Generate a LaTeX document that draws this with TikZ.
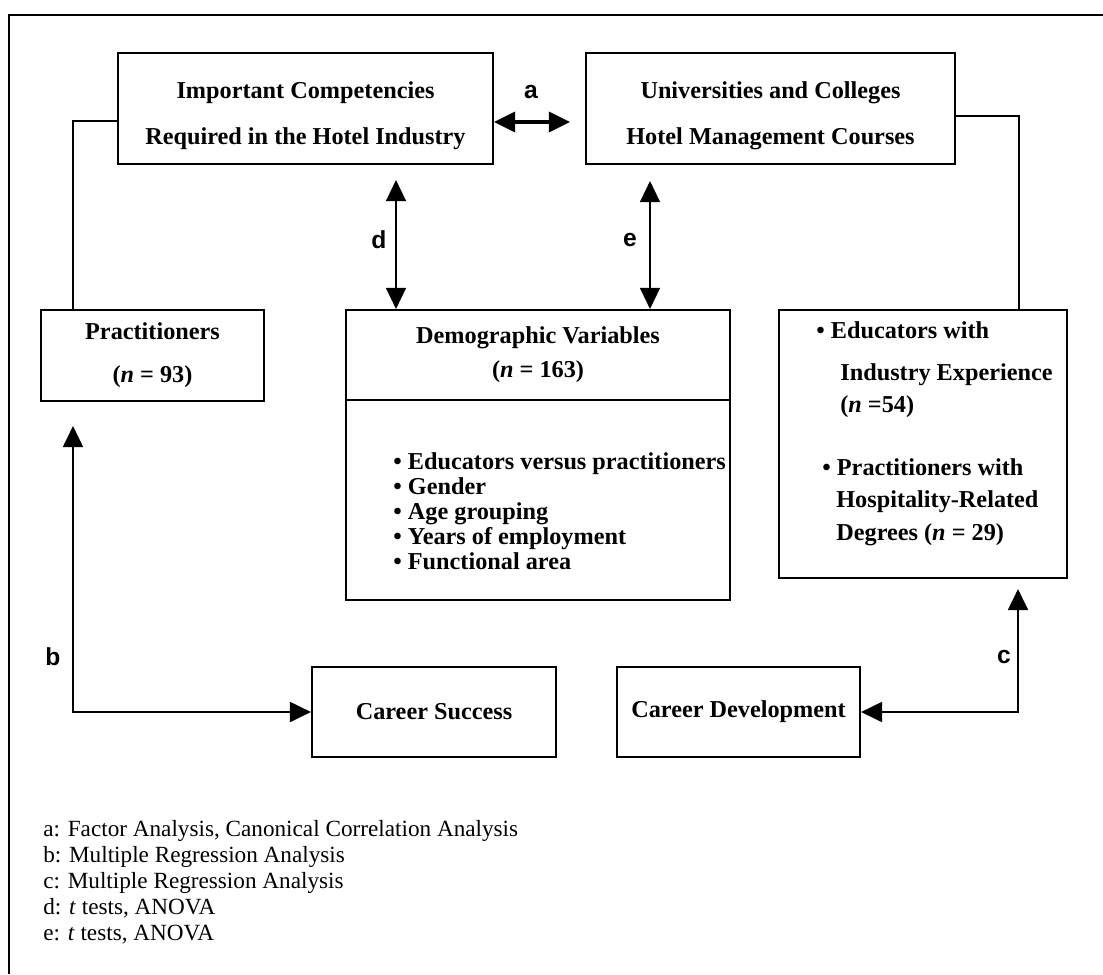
\documentclass[tikz,border=0pt]{standalone}
\usepackage{fontspec}
\setmainfont{Liberation Serif}
\newfontfamily\letterfont{Liberation Sans}
\usepackage{tikz}
\usetikzlibrary{arrows.meta, positioning}
\newlength{\pxu}
\setlength{\pxu}{0.02cm}

\begin{document}
\begin{tikzpicture}[x=0.2mm, y=-0.2mm,
  box/.style={rectangle, draw, line width=1.2pt, align=center, inner sep=0pt,
    font=\fontsize{13.8}{26}\selectfont\bfseries},
  item/.style={align=left, inner sep=0pt,
    font=\fontsize{13.8}{14.2}\selectfont\bfseries},
  dbl/.style={{Triangle[length=0.42cm, width=0.4cm]}-{Triangle[length=0.42cm, width=0.4cm]}},
  link/.style={line width=1.1pt},
  lbl/.style={font=\fontsize{14}{16}\selectfont\letterfont\bfseries},
  key/.style={align=left, inner sep=0pt, font=\fontsize{13.2}{14.8}\selectfont},
]
\useasboundingbox (0,0) rectangle (1103,974);
% frame
\draw[link] (1103,15) -- (9,15) -- (9,974);

% top row
\node[box, minimum width=7.5cm,  minimum height=2.22cm] (ic) at (305.5,108.5)
  {\rule{0pt}{0.62cm}Important Competencies\\Required in the Hotel Industry};
\node[box, minimum width=7.38cm, minimum height=2.22cm] (uc) at (770.5,108.5)
  {\rule{0pt}{0.62cm}Universities and Colleges\\Hotel Management Courses};

% middle row
\node[box, minimum width=4.46cm, minimum height=1.82cm,
  font=\fontsize{13.8}{24.4}\selectfont\bfseries] (prac) at (152.5,355.5)
  {Practitioners\\(\textit{n} = 93)};
\node[box, minimum width=7.68cm, minimum height=1.8cm,
  font=\fontsize{13.8}{19.3}\selectfont\bfseries] (demo) at (538,355)
  {Demographic Variables\\(\textit{n} = 163)};
\node[box, minimum width=7.68cm, minimum height=4cm, below=-1.2pt of demo] (demoList) {};
\node[item, anchor=north west] (demoItems) at (393,452)
  {\textbullet\ Educators versus practitioners\\
   \textbullet\ Gender\\
   \textbullet\ Age grouping\\
   \textbullet\ Years of employment\\
   \textbullet\ Functional area};
\node[box, minimum width=5.76cm, minimum height=5.36cm] (edu) at (923,444) {};
\node[item, anchor=north west, font=\fontsize{13.8}{18.5}\selectfont\bfseries]
  (eduItems) at (816,321)
  {\textbullet\ Educators with\\[5.3pt]
   \hspace*{24\pxu}Industry Experience\\
   \hspace*{24\pxu}(\textit{n} =54)\\[17.2pt]
   \hspace*{6\pxu}\textbullet\ Practitioners with\\
   \hspace*{20\pxu}Hospitality-Related\\
   \hspace*{20\pxu}Degrees (\textit{n} = 29)};

% bottom row
\node[box, minimum width=4.88cm, minimum height=1.8cm] (cs) at (434,712) {Career Success};
\node[box, minimum width=4.86cm, minimum height=1.8cm] (cd) at (738.5,712) {Career Development};

% helper coordinates
\coordinate (aY)  at (0,122);
\coordinate (dX)  at (396,0);
\coordinate (eX)  at (650,0);
\coordinate (bX)  at (73,0);
\coordinate (cX)  at (1018,0);
\coordinate (icL) at (73,121);
\coordinate (ucR) at (1019,116);

% connectors
\draw[link] (ic.west |- icL) -| (prac.north -| bX);
\draw[link] (uc.east |- ucR) -| (edu.north -| ucR);
\draw[dbl, line width=2pt, shorten >=0.3cm] (ic.east |- aY) -- (uc.west |- aY);
\draw[dbl, line width=0.8pt, shorten >=0.3cm] (demo.north -| dX) -- (ic.south -| dX);
\draw[dbl, line width=0.8pt, shorten >=0.32cm] (demo.north -| eX) -- (uc.south -| eX);
\draw[dbl, link, shorten >=0.48cm] (cs.west) -| (prac.south -| bX);
\draw[dbl, link, shorten >=0.2cm] (cd.east) -| (edu.south -| cX);

% arrow letters
\node[lbl] (la) at (531,92)  {a};
\node[lbl] (ld) at (379,240) {d};
\node[lbl] (le) at (630,240) {e};
\node[lbl] (lb) at (53,657)  {b};
\node[lbl] (lc) at (1004,657) {c};

% key
\node[key, anchor=north west] (key) at (43,820)
  {a: Factor Analysis, Canonical Correlation Analysis\\
   b: Multiple Regression Analysis\\
   c: Multiple Regression Analysis\\
   d: \textit{t} tests, ANOVA\\
   e: \textit{t} tests, ANOVA};
\end{tikzpicture}
\end{document}
